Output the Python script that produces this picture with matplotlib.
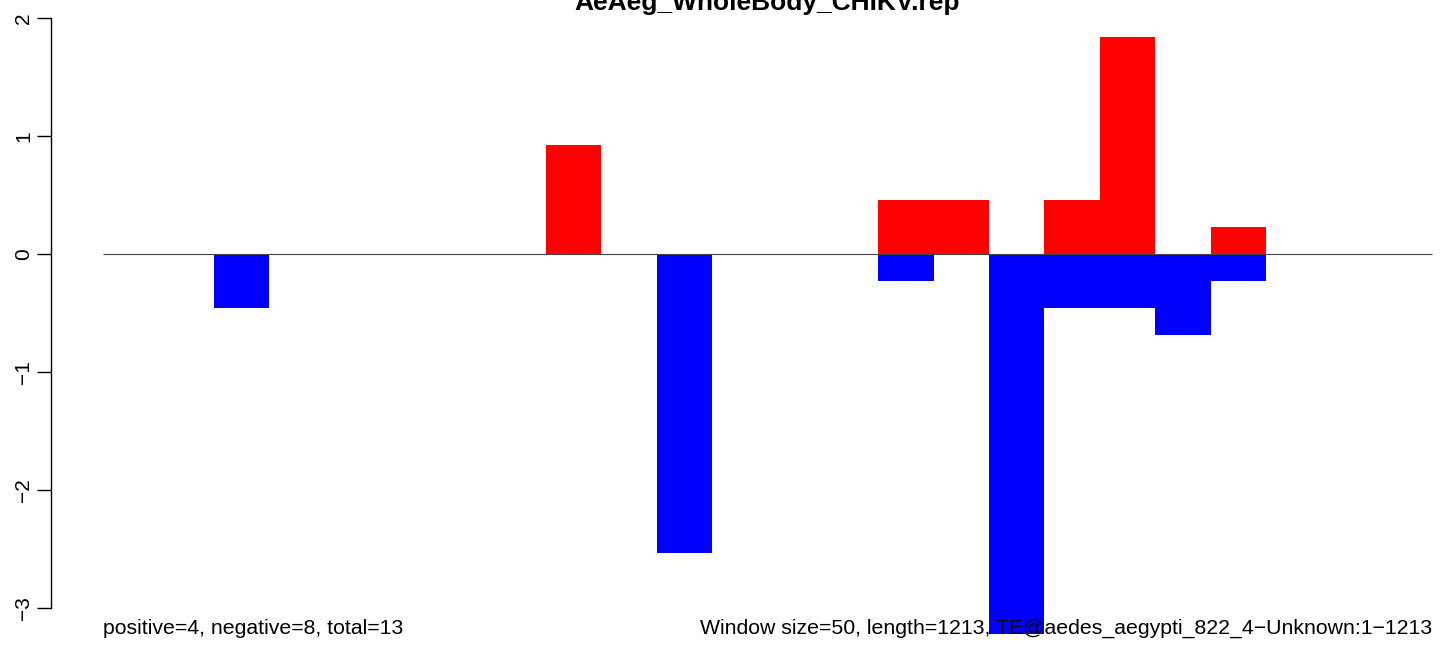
import matplotlib
matplotlib.use("Agg")
import matplotlib.pyplot as plt

plt.rcParams['font.family'] = ['Liberation Sans', 'DejaVu Sans']

title = "AeAeg_WholeBody_CHIKV.rep"
window_size = 50
n_windows = 24
positive = [0, 0, 0, 0, 0, 0, 0, 0, 0.92, 0, 0, 0, 0, 0, 0.46, 0.46,
            0, 0.46, 1.84, 0, 0.23, 0, 0, 0]
negative = [0, 0, -0.46, 0, 0, 0, 0, 0, 0, 0, -2.53, 0, 0, 0, -0.23, 0,
            -3.22, -0.46, -0.46, -0.69, -0.23, 0, 0, 0]
y_ticks = [-3, -2, -1, 0, 1, 2]
left_text = "positive=4, negative=8, total=13"
right_text = "Window size=50, length=1213, TE@aedes_aegypti_822_4\u2212Unknown:1\u22121213"

starts = [i * window_size for i in range(n_windows)]
x_end = n_windows * window_size

fig = plt.figure(figsize=(14.44, 6.46), dpi=100)
ax = fig.add_axes([51 / 1444, 0, 1 - 51 / 1444, 1])

ax.bar(starts, positive, width=window_size, align='edge', color='#ff0000', linewidth=0)
ax.bar(starts, negative, width=window_size, align='edge', color='#0000ff', linewidth=0)
ax.hlines(0, 0, x_end, color='#444444', linewidth=0.8)

upp = x_end / 1329.0
ax.set_xlim(0 - 52 * upp, x_end + 12 * upp)
ytop = 2 + 18 / 118
ax.set_ylim(-3 - 38 / 118, ytop)

for s in ['top', 'right', 'bottom']:
    ax.spines[s].set_visible(False)
ax.spines['left'].set_bounds(-3, 2)
ax.spines['left'].set_linewidth(1.0)
ax.set_xticks([])
ax.set_yticks(y_ticks)
ax.set_yticklabels([str(t).replace('-', '\u2212') for t in y_ticks], rotation=90, va='center')
ax.tick_params(axis='y', length=10, width=1.0, labelsize=15, pad=3)

ax.text(0, -3.17, left_text, ha='left', va='center', fontsize=15.3)
ax.text(x_end, -3.17, right_text, ha='right', va='center', fontsize=15.3)
ax.text(x_end / 2, ytop - 10 / 118, title, ha='center', va='baseline',
        fontsize=19, fontweight='bold', clip_on=False)

fig.savefig("out.png", dpi=100)
